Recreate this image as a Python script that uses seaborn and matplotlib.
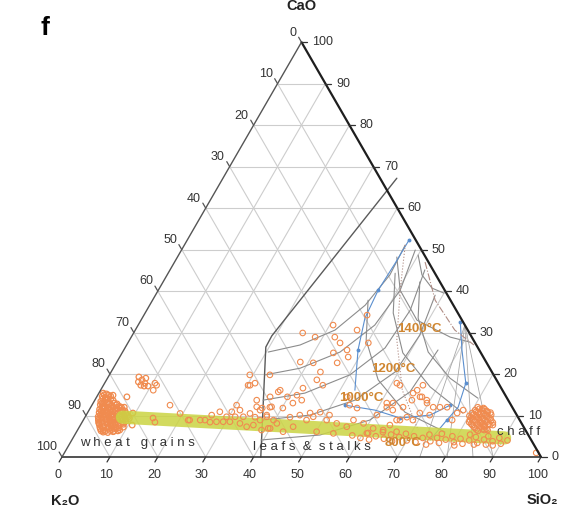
import numpy as np
import pandas as pd
import matplotlib
matplotlib.use("Agg")
import matplotlib.pyplot as plt
import seaborn as sns

# ---------------- data: compositions in wt.% (SiO2, CaO); K2O = rest ----------------
grains_sio2 = [0.9, 1.7, 1.1, 1.9, 2.8, 1.4, 2.2, 3.1, 3.9, 1.7, 2.5, 3.4, 4.2, 5.0, 5.9,
               2.1, 2.8, 3.6, 4.4, 5.3, 6.1, 6.9, 2.4, 3.1, 3.9, 4.7, 5.6, 6.4, 7.2, 8.1,
               2.7, 3.4, 4.2, 5.0, 5.9, 6.7, 7.5, 8.4, 9.0, 3.2, 4.0, 4.9, 5.7, 6.5, 7.3,
               8.2, 9.0, 3.9, 4.7, 5.6, 6.4, 7.2, 8.1, 8.9, 4.6, 5.4, 6.3, 7.1, 7.9, 8.8,
               5.6, 6.6, 7.6, 6.4, 7.4, 8.4, 7.8, 8.0, 8.6, 6.9, 9.4, 3.2, 6.3, 9.5, 10.8,
               3.0, 4.4, 5.2, 6.0, 7.0, 2.2, 3.6]
grains_cao = [15.4, 15.2, 14.6, 14.3, 14.7, 13.4, 13.7, 13.3, 13.6, 12.6, 12.3, 12.7, 12.4, 12.6, 12.2,
              11.5, 11.8, 11.4, 11.7, 11.5, 11.8, 11.4, 10.7, 10.4, 10.8, 10.5, 10.7, 10.4, 10.8, 10.5,
              9.7, 9.4, 9.8, 9.5, 9.7, 9.4, 9.8, 9.5, 9.7, 8.8, 8.5, 8.9, 8.6, 8.8, 8.5,
              8.9, 8.6, 7.8, 7.5, 7.9, 7.6, 7.8, 7.5, 7.9, 6.8, 6.5, 6.9, 6.6, 6.8, 6.5,
              6.0, 5.9, 6.1, 19.3, 18.6, 17.8, 17.3, 19.0, 17.1, 18.1, 17.1, 14.9, 14.5, 10.6, 7.7,
              11.0, 9.1, 10.1, 8.0, 12.0, 12.9, 8.2]
grains_dense_sio2 = [1.3, 2.3, 1.5, 2.4, 3.2, 1.8, 2.7, 3.5, 4.4, 5.1, 2.3, 3.0, 3.8, 4.6, 5.5,
                     6.4, 2.6, 3.4, 4.3, 5.1, 5.9, 6.8, 7.6, 2.9, 3.8, 4.6, 5.4, 6.3, 7.1, 7.9,
                     8.7, 3.0, 3.8, 4.6, 5.4, 6.3, 7.1, 7.9, 8.7, 9.4, 3.6, 4.4, 5.2, 6.1, 6.9,
                     7.7, 8.6, 4.3, 5.1, 6.0, 6.8, 7.6, 8.4, 9.2, 5.0, 5.9, 6.8, 7.7, 8.5]
grains_dense_cao = [15.0, 14.9, 14.0, 14.1, 13.9, 13.0, 13.1, 12.9, 13.0, 12.8, 12.0, 12.1, 11.9,
                    12.1, 11.9, 12.0, 11.1, 11.0, 11.2, 11.0, 11.1, 10.9, 11.1, 10.1, 10.2, 10.0,
                    10.1, 10.2, 10.0, 10.1, 10.0, 9.2, 9.1, 9.3, 9.1, 9.2, 9.0, 9.2, 9.1, 9.3,
                    8.2, 8.1, 8.3, 8.1, 8.2, 8.0, 8.2, 7.2, 7.1, 7.3, 7.1, 7.2, 7.0, 7.2, 6.3,
                    6.2, 6.4, 6.2, 6.3]

straw_sio2 = [10.5, 11.0, 16.3, 19.4, 24.4, 25.4, 26.2, 27.5, 29.4, 30.8, 30.2, 31.5, 33.0, 31.3,
              29.3, 30.2, 34.6, 35.7, 37.9, 39.7, 37.7, 34.0, 30.0, 29.5, 28.0, 34.9, 36.1, 33.1,
              38.4, 39.6, 15.2, 21.9, 14.3, 22.2, 11.1, 26.7, 30.6, 33.8,
              40.7, 42.5, 35.3, 44.3, 46.6, 47.7, 44.1, 46.3, 50.2, 38.3, 41.1, 43.7, 46.1, 33.5,
              43.9, 45.8, 42.0, 37.3, 39.8, 41.6, 43.2, 41.7, 40.2, 37.4, 35.9, 46.5, 48.5, 50.8,
              53.8, 55.7, 52.3, 61.3, 63.4, 65.4, 42.8, 37.7, 35.5, 60.7, 38.4, 46.6, 36.2, 37.5,
              31.4, 36.9, 40.8, 44.6, 46.6, 47.6, 50.8, 53.3, 55.8, 56.4, 58.9, 61.5, 63.8, 64.6,
              66.8, 43.1, 40.0, 50.1, 44.6, 53.8, 60.8,
              61.9, 66.7, 65.6, 67.5, 66.2, 69.3, 71.5, 72.9, 74.4, 65.2, 62.6, 61.8, 69.4, 71.7,
              67.2, 68.8, 66.1, 61.0, 66.1, 67.9, 69.7, 77.2, 77.0, 78.1, 86.1, 80.7, 98.5]
straw_cao = [17.8, 16.1, 12.5, 10.5, 8.9, 8.9, 10.1, 10.9, 8.5, 8.5, 12.5, 11.3, 9.7, 9.7,
             19.8, 17.3, 12.1, 11.3, 9.7, 8.9, 12.1, 10.5, 10.9, 9.7, 8.5, 7.3, 7.7, 8.1,
             6.5, 6.9, 8.4, 8.9, 9.4, 8.9, 17.3, 8.4, 17.3, 13.7,
             31.8, 28.9, 29.9, 27.5, 25.8, 24.1, 25.1, 30.6, 27.5, 22.9, 22.7, 20.5, 22.7, 19.8,
             18.6, 17.3, 16.6, 15.7, 14.5, 14.9, 13.7, 13.0, 11.8, 12.0, 11.8, 10.6, 10.8, 10.1,
             12.5, 11.8, 14.5, 13.0, 11.3, 8.9, 9.6, 10.1, 9.6, 10.1, 28.9, 34.2, 14.5, 16.1,
             17.8, 8.9, 8.1, 7.3, 8.9, 9.7, 8.9, 8.1, 7.3, 8.9, 8.1, 6.9, 6.5, 7.7,
             6.1, 6.1, 6.9, 6.1, 10.1, 5.7, 5.7,
             17.3, 17.3, 15.4, 14.5, 13.7, 13.7, 12.0, 12.0, 12.0, 12.0, 13.0, 12.0, 10.6, 10.1,
             9.6, 8.9, 8.9, 17.8, 16.1, 14.5, 13.0, 10.6, 8.9, 11.3, 7.7, 8.9, 1.0]

band_sio2 = [58, 60, 61, 62, 63, 64, 65, 66, 67, 68, 69, 70, 71, 72, 73, 74, 75, 76, 77, 78,
             79, 80, 81, 82, 83, 84, 85, 86, 87, 88, 89, 90, 91, 84.5, 86.5, 88.5, 82.5, 80.5,
             76.5, 74.5]
band_cao = [5.2, 4.6, 5.8, 4.2, 5.0, 6.0, 4.4, 5.4, 3.8, 4.8, 5.6, 4.0, 5.0, 3.6, 4.6, 5.4,
            3.8, 4.6, 3.4, 4.2, 5.0, 3.6, 4.4, 3.2, 4.0, 4.8, 3.4, 4.2, 3.0, 3.8, 4.6, 3.2, 4.0,
            3.0, 5.0, 2.8, 5.4, 2.8, 5.6, 3.0]

chaff_sio2 = [80.8, 82.1, 80.6, 81.9, 83.1, 80.3, 81.5, 82.8, 84.1, 80.1, 81.3, 82.6, 83.8,
              81.0, 82.2, 83.5, 84.8, 80.8, 82.0, 83.3, 84.5, 85.8, 81.8, 83.0, 84.3, 85.5,
              82.7, 84.0, 85.2, 83.7, 84.9]
chaff_cao = [12.0, 11.8, 11.3, 11.5, 11.1, 10.6, 10.8, 10.4, 10.7, 9.9, 10.1, 9.7, 10.0,
             9.2, 9.4, 9.0, 9.3, 8.4, 8.6, 8.2, 8.5, 8.3, 7.7, 7.9, 7.5, 7.8,
             7.0, 7.2, 6.8, 6.3, 6.5]
chaff_dense_sio2 = [81.3, 82.5, 81.0, 82.3, 83.5, 80.8, 82.0, 83.3, 84.5, 80.6, 81.8, 83.1, 84.3,
                    81.5, 82.7, 84.0, 85.2, 81.4, 82.6, 83.9, 85.1, 82.3, 83.5, 84.7, 83.2, 84.4,
                    85.6]
chaff_dense_cao = [11.6, 11.5, 10.9, 11.0, 10.8, 10.2, 10.3, 10.1, 10.2, 9.5, 9.6, 9.4, 9.5,
                   8.8, 8.9, 8.7, 8.8, 8.0, 8.1, 7.9, 8.0, 7.3, 7.4, 7.2, 6.6, 6.7, 6.5]

trend_sio2 = [7.8, 90.1]
trend_cao = [9.6, 4.6]

tick_values = [0, 10, 20, 30, 40, 50, 60, 70, 80, 90, 100]
group_labels = ["w h e a t   g r a i n s", "l e a f s  &  s t a l k s", "c h a f f"]
temp_labels = ["1400°C", "1200°C", "1000°C", "800°C"]
axis_names = ["CaO", "K₂O", "SiO₂"]

# phase-diagram (K2O-CaO-SiO2) lines, (SiO2, CaO) wt.%
outline = [(41.5, 0), (29.3, 26.5), (29.2, 29.2), (36.3, 67.2)]
iso_a1 = [(30.4, 25.3), (36.2, 27.0), (41.7, 30.6), (45.0, 36.6), (46.5, 43.9), (46.1, 51.1)]
iso_a2 = [(32.5, 19.8), (39.0, 21.4), (45.4, 25.3), (49.4, 31.8), (50.5, 40.2), (48.8, 49.9)]
iso_a3 = [(35.1, 13.7), (43.0, 15.4), (50.2, 19.8), (54.3, 26.3), (55.0, 35.4), (53.2, 45.1)]
iso_a4 = [(37.3, 8.9), (46.7, 10.1), (54.3, 13.7), (59.3, 20.5), (60.0, 29.4), (58.4, 39.0)]
iso_a5 = [(39.5, 4.1), (51.2, 5.3), (59.8, 8.9), (64.8, 15.7), (65.6, 25.8)]
iso_b1 = [(47.4, 44.3), (51.8, 34.7), (58.6, 25.1), (68.4, 16.9), (78.4, 10.6)]
iso_b2 = [(53.6, 42.2), (57.6, 33.5), (63.8, 25.3), (71.5, 19.0), (79.7, 14.2)]
iso_b3 = [(45.0, 37.8), (49.4, 28.2), (56.7, 18.6), (66.2, 10.8), (77.0, 6.0)]
iso_b4 = [(50.0, 48.7), (53.2, 43.9), (56.9, 40.7), (60.0, 39.5)]
iso_b5 = [(45.8, 48.2), (50.5, 40.2), (57.6, 33.0), (66.6, 28.9), (71.3, 27.7)]
join_1 = [(68.2, 31.8), (74.7, 0)]
join_2 = [(68.2, 31.8), (80.4, 0)]
join_3 = [(68.2, 31.8), (85.8, 0)]
join_4 = [(68.2, 31.8), (90.0, 0)]
cotectic_1 = [(46.3, 52.3), (46.2, 46.7), (45.9, 40.2), (46.5, 33.5), (48.9, 25.8), (53.1, 16.1)]
cotectic_2 = [(66.9, 32.5), (70.6, 25.8), (75.4, 17.8), (76.7, 12.0), (75.9, 8.9), (74.8, 4.1)]
cotectic_3 = [(52.8, 12.5), (59.7, 11.3), (65.9, 9.4), (71.8, 10.1), (74.8, 12.5)]
dotted_1 = [(46.1, 51.1), (50.5, 40.2), (55.8, 28.2), (63.0, 16.1), (71.1, 6.5)]
dotted_2 = [(52.3, 47.0), (59.0, 37.8), (66.7, 30.6), (72.5, 27.0)]

# ---------------- helpers ----------------
H = np.sqrt(3) / 2


def tern(sio2, cao):
    s = np.asarray(sio2, float) / 100.0
    c = np.asarray(cao, float) / 100.0
    return s + c / 2.0, c * H


sns.set_theme(style="white")
plt.rcParams['font.family'] = ['Liberation Sans', 'DejaVu Sans']

fig = plt.figure(figsize=(5.62, 5.09), dpi=100)
ax = fig.add_axes([0, 0, 1, 1])
ax.set_xlim(-62 / 479, 500 / 479)
ax.set_ylim(-52 / 479, 457 / 479)
ax.axis('off')

# grid
gcol = '#cdcdcd'
for v in tick_values[1:-1]:
    f = v / 100
    for (s0, c0, s1, c1) in [(0, f, 1 - f, f), (f, 0, f, 1 - f), (1 - f, 0, 0, 1 - f)]:
        xs, ys = tern([s0 * 100, s1 * 100], [c0 * 100, c1 * 100])
        ax.plot(xs, ys, color=gcol, lw=0.8, zorder=1)

# phase diagram lines
def pl(pts, **kw):
    s = [p[0] for p in pts]
    c = [p[1] for p in pts]
    xs, ys = tern(s, c)
    ax.plot(xs, ys, **kw)

pl(outline, color='#5a5a5a', lw=1.0, zorder=2)
for cv in [iso_a1, iso_a2, iso_a3, iso_a4, iso_a5, iso_b1, iso_b2, iso_b3, iso_b4, iso_b5]:
    pl(cv, color='#8c8c8c', lw=0.8, zorder=2)
for cv in [join_1, join_2, join_3, join_4]:
    pl(cv, color='#a8a8a8', lw=0.6, zorder=2)
for cv in [cotectic_1, cotectic_2, cotectic_3]:
    pl(cv, color='#5b8fcf', lw=0.8, zorder=2, marker='o', ms=1.8, markevery=2)
for cv in [dotted_1]:
    pl(cv, color='#b08c84', lw=0.8, ls=':', zorder=2)
for cv in [dotted_2]:
    pl(cv, color='#b08c84', lw=0.8, ls='-.', zorder=2)

# triangle frame
xa, ya = tern([0, 100], [0, 0])
ax.plot(xa, ya, color='#333333', lw=1.2, zorder=5)
xa, ya = tern([100, 0], [0, 100])
ax.plot(xa, ya, color='#1e1e1e', lw=1.6, zorder=5)
xa, ya = tern([0, 0], [0, 100])
ax.plot(xa, ya, color='#555555', lw=1.0, zorder=5)

# ticks & labels
L = 0.012
tk = dict(fontsize=9, color='#333333')
for v in tick_values:
    bx, by = tern(v, 0)
    ax.plot([bx, bx - L * 0.5], [by, by - L * H], color='#333333', lw=0.9, zorder=5)
    ax.text(bx - 0.008, -0.0376, str(v), ha='center', va='center', **tk)
    rx, ry = tern(100 - v, v)
    ax.plot([rx, rx + L], [ry, ry], color='#333333', lw=0.9, zorder=5)
    ax.text(rx + 0.022, ry, str(v), ha='left', va='center', **tk)
    lx, ly = tern(0, 100 - v)
    ax.plot([lx, lx - L * 0.5], [ly, ly + L * H], color='#555555', lw=0.9, zorder=5)
    ax.text(lx - 0.01, ly + 0.02, str(v), ha='right', va='center', **tk)

# trend band
bxs, bys = tern(trend_sio2, trend_cao)
sns.lineplot(x=bxs, y=bys, ax=ax, color='#cbd443', lw=9.5, alpha=0.85, sort=False,
             solid_capstyle='round', zorder=3, legend=False)

# scatter
orange = '#f08b4f'
gx, gy = tern(grains_sio2 + grains_dense_sio2, grains_cao + grains_dense_cao)
sns.scatterplot(x=gx, y=gy, ax=ax, marker='o', s=16, facecolors='none',
                edgecolor=orange, linewidth=0.9, zorder=2.5, legend=False)
ox, oy = tern(straw_sio2 + band_sio2 + chaff_sio2 + chaff_dense_sio2,
              straw_cao + band_cao + chaff_cao + chaff_dense_cao)
sns.scatterplot(x=ox, y=oy, ax=ax, marker='o', s=16, facecolors='none',
                edgecolor=orange, linewidth=0.8, zorder=4, legend=False)
for coll in ax.collections:
    coll.set_facecolor('none')

# group labels
gl = dict(fontsize=9.5, color='#333333', ha='left', va='center', zorder=6)
ax.text(18 / 479, 14 / 479, group_labels[0], **gl)
ax.text(191 / 479, 10 / 479, group_labels[1], **gl)
ax.text(435 / 479, 25 / 479, group_labels[2], **gl)

# temperature labels
tl = dict(fontsize=9.5, color='#d08630', fontweight='bold', ha='center', va='center', zorder=6)
ax.text(0.747, 0.267, temp_labels[0], **tl)
ax.text(0.691, 0.184, temp_labels[1], **tl)
ax.text(0.624, 0.123, temp_labels[2], **tl)
ax.text(0.712, 0.029, temp_labels[3], **tl)

# axis names
an = dict(fontsize=10.5, fontweight='bold', color='#222222', va='center')
ax.text(0.5, 0.9415, axis_names[0], ha='center', **an)
ax.text(0.006, -0.092, axis_names[1], ha='center', **an)
ax.text(1.036, -0.090, axis_names[2], ha='right', **an)

# panel letter
ax.text(-0.0355, 0.896, "f", fontsize=19, fontweight='bold', color='black',
        ha='center', va='center')

fig.savefig('out.png', dpi=100)
